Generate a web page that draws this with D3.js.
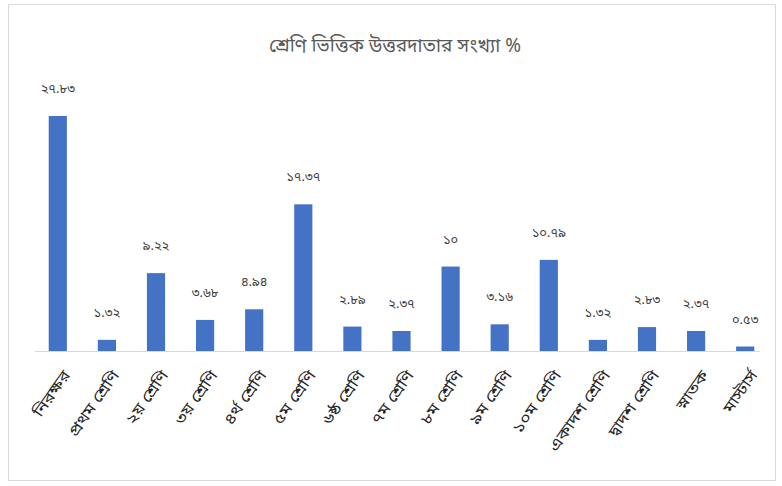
<!DOCTYPE html>
<html lang="bn">
<head>
  <meta charset="UTF-8">
  <title>শ্রেণি ভিত্তিক উত্তরদাতার সংখ্যা %</title>
  <style>
    body { margin: 0; background: #fff; }
    text { font-family: "Noto Sans Bengali", "Noto Sans", "Lohit Bengali", sans-serif; }
  </style>
</head>
<body>
<script src="https://d3js.org/d3.v7.min.js"></script>
<script>
  // data
  let categories = ["নিরক্ষর", "প্রথম শ্রেণি", "২য় শ্রেণি", "৩য় শ্রেণি", "৪র্থ শ্রেণি",
    "৫ম শ্রেণি", "৬ষ্ঠ শ্রেণি", "৭ম শ্রেণি", "৮ম শ্রেণি", "৯ম শ্রেণি",
    "১০ম শ্রেণি", "একাদশ শ্রেণি", "দ্বাদশ শ্রেণি", "স্নাতক", "মাস্টার্স"];
  let values = [27.83, 1.32, 9.22, 3.68, 4.94, 17.37, 2.89, 2.37, 10, 3.16, 10.79, 1.32, 2.83, 2.37, 0.53];
  let valueLabels = ["২৭.৮৩", "১.৩২", "৯.২২", "৩.৬৮", "৪.৯৪", "১৭.৩৭", "২.৮৯", "২.৩৭", "১০", "৩.১৬",
    "১০.৭৯", "১.৩২", "২.৮৩", "২.৩৭", "০.৫৩"];
  let title = "শ্রেণি ভিত্তিক উত্তরদাতার সংখ্যা %";

  let width = 782, height = 486;
  let baseY = 351;

  let svg = d3.select("body").append("svg")
    .attr("width", width)
    .attr("height", height);

  // chart frame
  svg.append("rect")
    .attr("x", 8.5).attr("y", 4.5)
    .attr("width", 767).attr("height", 476)
    .attr("fill", "#fff")
    .attr("stroke", "#d9d9d9");

  svg.append("text")
    .attr("x", 395).attr("y", 52)
    .attr("text-anchor", "middle")
    .attr("font-size", 19)
    .attr("fill", "#595959")
    .text(title);

  let x = d3.scaleBand()
    .domain(categories)
    .range([33, 770])
    .paddingInner(0.63)
    .paddingOuter(0.32);

  let y = d3.scaleLinear()
    .domain([0, 27.83])
    .range([baseY, 116]);

  let idx = d3.range(values.length);

  svg.selectAll("rect.bar")
    .data(idx)
    .join("rect")
    .attr("class", "bar")
    .attr("x", i => x(categories[i]))
    .attr("y", i => y(values[i]))
    .attr("width", x.bandwidth())
    .attr("height", i => baseY - y(values[i]))
    .attr("fill", "#4472c4");

  svg.selectAll("text.val")
    .data(idx)
    .join("text")
    .attr("class", "val")
    .attr("x", i => x(categories[i]) + x.bandwidth() / 2)
    .attr("y", i => y(values[i]) - 23)
    .attr("text-anchor", "middle")
    .attr("font-size", 13)
    .attr("fill", "#404040")
    .text(i => valueLabels[i]);

  // x axis, labels slanted a bit steeper than 45 like the source
  let axis = svg.append("g")
    .attr("transform", "translate(0," + baseY + ")")
    .call(d3.axisBottom(x).tickSize(0).tickPadding(0));
  axis.select(".domain").attr("stroke", "#d9d9d9").attr("d", "M35,0.5H760");
  axis.selectAll(".tick text")
    .attr("font-size", 15)
    .attr("fill", "#262626")
    .attr("text-anchor", "end")
    .attr("dy", 0)
    .attr("transform", "translate(13,24) rotate(-55) scale(1.2,1)");
</script>
</body>
</html>
